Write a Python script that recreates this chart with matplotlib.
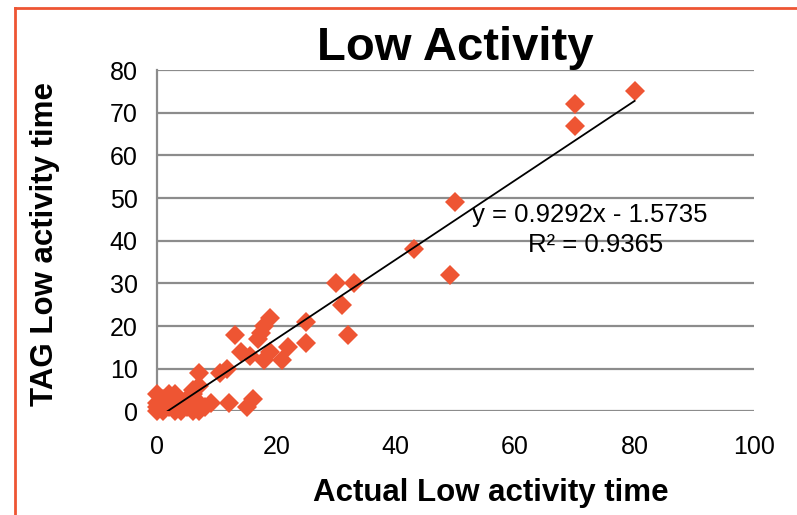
import matplotlib
matplotlib.use('Agg')
import matplotlib.pyplot as plt
import numpy as np
from matplotlib.lines import Line2D

# data
actual = [80, 70, 70, 50, 43, 49,
          30, 33, 31, 32, 25, 25,
          19, 18, 17.5, 17, 13, 14, 15.5, 18, 22, 21, 19,
          10.5, 11.7, 7,
          0, 0, 0, 0, 1, 1, 2, 2, 3, 3, 3, 4, 4, 5, 5, 6, 6, 7, 7, 7, 8, 9,
          12, 15, 16, 6]
tag = [75, 72, 67, 49, 38, 32,
       30, 30, 25, 18, 21, 16,
       22, 20, 18.5, 17, 18, 14, 13, 12, 15, 12, 14,
       9, 10, 9,
       4, 2, 1, 0, 0, 3, 1, 4, 4, 2, 0, 2, 0, 3, 1, 5, 4, 2, 6, 0, 1, 2,
       2, 1, 3, 0]
slope = 0.9292
intercept = -1.5735
r2 = 0.9365

xticks = [0, 20, 40, 60, 80, 100]
yticks = [0, 10, 20, 30, 40, 50, 60, 70, 80]

plt.rcParams['font.family'] = ['Liberation Sans', 'DejaVu Sans']

fig = plt.figure(figsize=(7.97, 5.15), dpi=100)
ax = fig.add_axes([0.197, 0.201, 0.749, 0.663])

red = '#EE5533'
grid = '#8C8C8C'

ax.set_xlim(0, 100)
ax.set_ylim(0, 80)
for yv in yticks:
    ax.axhline(yv, color=grid, lw=1.6, zorder=1)

ax.plot(actual, tag, linestyle='none', marker='D', ms=10, color=red,
        markeredgewidth=0, zorder=3, clip_on=False)

xs = np.linspace(min(actual), max(actual), 200)
ax.plot(xs, slope * xs + intercept, color='black', lw=1.3, zorder=4)

ax.text(52.8, 46, 'y = %.4fx - %.4f' % (slope, -intercept), fontsize=18.5,
        ha='left', va='center', zorder=5)
ax.text(84.8, 39, 'R² = %.4f' % r2, fontsize=18.5, ha='right', va='center',
        zorder=5)

ax.set_xticks(xticks)
ax.set_yticks(yticks)
ax.tick_params(axis='both', length=0, labelsize=18)
ax.tick_params(axis='y', pad=14)
ax.tick_params(axis='x', pad=17)
for s in ['top', 'right', 'bottom']:
    ax.spines[s].set_visible(False)
ax.spines['left'].set_color(grid)
ax.spines['left'].set_linewidth(1.6)

ax.set_title('Low Activity', fontsize=34, fontweight='bold', pad=4)
ax.set_xlabel('Actual Low activity time', fontsize=22.5, fontweight='bold')
ax.xaxis.set_label_coords(0.559, -0.195)
ax.set_ylabel('TAG Low activity time', fontsize=22.5, fontweight='bold')
ax.yaxis.set_label_coords(-0.162, 0.49)

# outer border (top and left edges visible)
fig.add_artist(Line2D([15 / 797, 1.0], [1 - 8 / 515, 1 - 8 / 515],
                      transform=fig.transFigure, color=red, lw=2))
fig.add_artist(Line2D([15 / 797, 15 / 797], [0, 1 - 8 / 515],
                      transform=fig.transFigure, color=red, lw=2))

plt.savefig('out.png', dpi=100)
plt.close()
